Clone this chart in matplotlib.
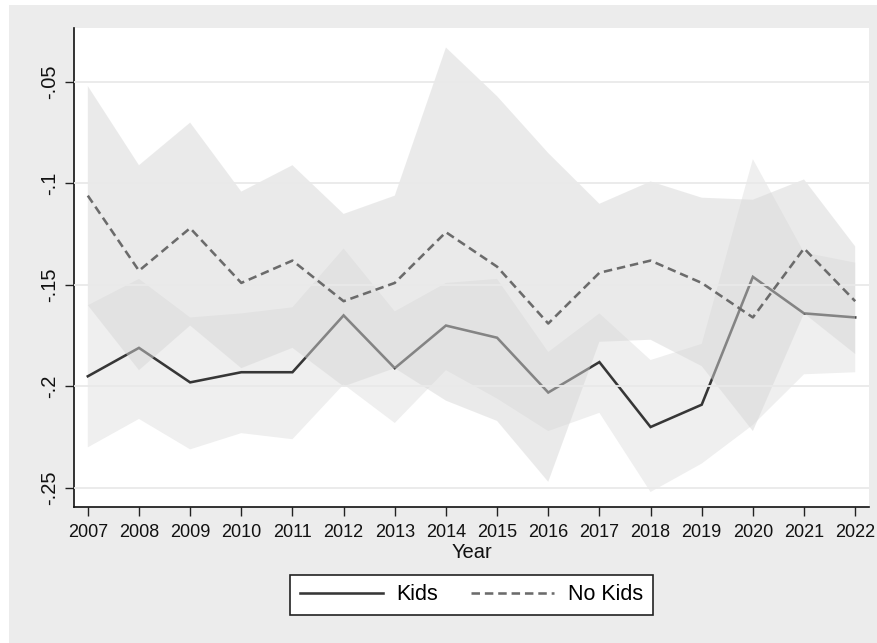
import matplotlib
matplotlib.use("Agg")
import matplotlib.pyplot as plt
from matplotlib.patches import Rectangle
from matplotlib.lines import Line2D

plt.rcParams['font.family'] = ['Liberation Sans', 'DejaVu Sans']

years = list(range(2007, 2023))

# Kids: point estimates and confidence bounds
kids = [-0.195, -0.181, -0.198, -0.193, -0.193, -0.165, -0.191, -0.170,
        -0.176, -0.203, -0.188, -0.220, -0.209, -0.146, -0.164, -0.166]
kids_lo = [-0.230, -0.216, -0.231, -0.223, -0.226, -0.199, -0.218, -0.192,
           -0.206, -0.222, -0.213, -0.252, -0.238, -0.219, -0.194, -0.193]
kids_hi = [-0.160, -0.147, -0.166, -0.164, -0.161, -0.132, -0.163, -0.149,
           -0.147, -0.183, -0.164, -0.187, -0.179, -0.088, -0.134, -0.139]

# No Kids: point estimates and confidence bounds
nokids = [-0.106, -0.143, -0.122, -0.149, -0.138, -0.158, -0.149, -0.124,
          -0.141, -0.169, -0.144, -0.138, -0.149, -0.166, -0.132, -0.158]
nokids_lo = [-0.160, -0.192, -0.170, -0.191, -0.181, -0.200, -0.191, -0.207,
             -0.217, -0.247, -0.178, -0.177, -0.190, -0.222, -0.164, -0.184]
nokids_hi = [-0.052, -0.091, -0.070, -0.104, -0.091, -0.115, -0.106, -0.033,
             -0.057, -0.085, -0.110, -0.099, -0.107, -0.108, -0.098, -0.131]

ytick_vals = [-0.25, -0.2, -0.15, -0.1, -0.05]
ytick_labels = ['-.25', '-.2', '-.15', '-.1', '-.05']
series_labels = ['Kids', 'No Kids']

W, H = 877, 643
fig = plt.figure(figsize=(W / 100, H / 100), dpi=100, facecolor='white')

# graph region background
fig.patches.append(Rectangle((9 / W, 0), 1 - 9 / W, 1 - 5 / H,
                             transform=fig.transFigure, facecolor='#ececec',
                             edgecolor='none', zorder=-10))

ax = fig.add_axes([74 / W, 1 - 507 / H, (869 - 74) / W, (507 - 28) / H])
ax.set_facecolor('white')

kids_col = '#363636'
nokids_col = '#6b6b6b'
lw = 1.85
dash = (0, (3.3, 1.9))

ax.fill_between(years, kids_lo, kids_hi, facecolor='#efefef',
                edgecolor='none', zorder=1)
ax.plot(years, kids, color=kids_col, lw=lw, zorder=2,
        solid_joinstyle='miter')
ax.fill_between(years, nokids_lo, nokids_hi, facecolor=(214 / 255, 214 / 255, 214 / 255),
                alpha=0.49, edgecolor='none', zorder=3)
for v in ytick_vals:
    ax.axhline(v, color='#e9e9e9', lw=1.3, zorder=3.5)
ax.plot(years, nokids, color=nokids_col, lw=lw, zorder=4, linestyle=dash)

ax.set_xlim(2006.73, 2022.27)
ax.set_ylim(-0.2594, -0.0234)

ax.set_xticks(years)
ax.set_xticklabels([str(y) for y in years], fontsize=13)
ax.set_yticks(ytick_vals)
ax.set_yticklabels(ytick_labels, fontsize=14.5, rotation=90, va='center')
ax.tick_params(axis='both', direction='out', length=6.5, width=1.0,
               color='#222222', labelcolor='#111111')
ax.tick_params(axis='x', pad=6)
ax.tick_params(axis='y', pad=4)

for s in ['top', 'right']:
    ax.spines[s].set_visible(False)
for s in ['left', 'bottom']:
    ax.spines[s].set_color('#111111')
    ax.spines[s].set_linewidth(1.2)

ax.set_xlabel('Year', fontsize=14.5, color='#111111', labelpad=1)

handles = [Line2D([], [], color=kids_col, lw=lw),
           Line2D([], [], color=nokids_col, lw=lw, linestyle=dash)]
leg = fig.legend(handles, series_labels, loc='center',
                 bbox_to_anchor=(471.5 / W, 1 - 595 / H), ncol=2,
                 frameon=True, fancybox=False, framealpha=1,
                 edgecolor='#222222', facecolor='white', fontsize=15.5,
                 handlelength=3.86, columnspacing=1.53, handletextpad=0.65,
                 borderpad=0.42)
leg.get_frame().set_linewidth(1.2)

fig.savefig('out.png', dpi=100, facecolor=fig.get_facecolor())
